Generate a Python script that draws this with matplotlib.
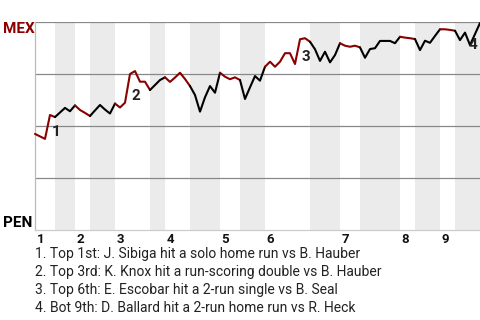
import matplotlib
matplotlib.use("Agg")
import matplotlib.pyplot as plt

plt.rcParams['font.family'] = ['Roboto', 'DejaVu Sans']

# win probability for MEX after each plate appearance (0 = PEN, 1 = MEX)
win_prob = [
    0.462, 0.450, 0.438, 0.553, 0.543, 0.565, 0.587, 0.571, 0.599, 0.577,
    0.563, 0.548, 0.575, 0.601, 0.579, 0.560, 0.608, 0.589, 0.612, 0.750,
    0.764, 0.713, 0.713, 0.673, 0.697, 0.721, 0.734, 0.712, 0.733, 0.756,
    0.726, 0.692, 0.649, 0.569, 0.638, 0.692, 0.660, 0.756, 0.737, 0.725,
    0.734, 0.721, 0.630, 0.686, 0.740, 0.718, 0.785, 0.809, 0.785, 0.809,
    0.850, 0.850, 0.798, 0.917, 0.922, 0.905, 0.869, 0.813, 0.857, 0.806,
    0.841, 0.898, 0.886, 0.881, 0.886, 0.878, 0.828, 0.870, 0.874, 0.909,
    0.909, 0.909, 0.898, 0.929, 0.925, 0.922, 0.918, 0.865, 0.910, 0.900,
    0.933, 0.965, 0.965, 0.962, 0.958, 0.913, 0.949, 0.889, 0.942, 0.995,
]
plate_app = list(range(len(win_prob)))

# plate appearance index where each half inning ends (top 1st, bot 1st, ...)
half_ends = [4, 8, 11, 16, 23, 26, 31, 37, 41, 46, 55, 61, 65, 73, 76, 81, 84, 89]
inning_labels = ['1', '2', '3', '4', '5', '6', '7', '8', '9']

# key plays
event_index = [3, 19, 53, 87]
event_text = [
    "1. Top 1st: J. Sibiga hit a solo home run vs B. Hauber",
    "2. Top 3rd: K. Knox hit a run-scoring double vs B. Hauber",
    "3. Top 6th: E. Escobar hit a 2-run single vs B. Seal",
    "4. Bot 9th: D. Ballard hit a 2-run home run vs R. Heck",
]

away_color = '#8b0000'
home_color = '#000000'

fig = plt.figure(figsize=(4.8, 3.2), dpi=100)
ax = fig.add_axes([35 / 480, 90 / 320, 445 / 480, 208 / 320])

half_starts = [0] + half_ends[:-1]
for i, (s, e) in enumerate(zip(half_starts, half_ends)):
    if i % 2 == 1:
        ax.axvspan(s, e, color='#ebebeb', lw=0, zorder=0)
    color = away_color if i % 2 == 0 else home_color
    ax.plot(plate_app[s:e + 1], win_prob[s:e + 1], color=color, lw=1.5,
            solid_joinstyle='round', solid_capstyle='round', zorder=3, clip_on=False)

for y in [0.25, 0.5, 0.75, 1.0]:
    ax.axhline(y, color='#888888', lw=0.9, zorder=1)

ax.set_xlim(0, len(win_prob) - 1)
ax.set_ylim(0, 1)
ax.set_xticks([])
ax.set_yticks([])
for side in ['top', 'right']:
    ax.spines[side].set_visible(False)
ax.spines['left'].set_color('#bbbbbb')
ax.spines['bottom'].set_color('#cccccc')
ax.spines['left'].set_linewidth(0.9)
ax.spines['bottom'].set_linewidth(0.9)

# inning numbers under the start of each top half
for k, label in enumerate(inning_labels):
    ax.annotate(label, (half_starts[2 * k], 0), xytext=(1, -2),
                textcoords='offset points', ha='left', va='top',
                fontsize=9.5, fontweight='bold', color='#111111',
                annotation_clip=False)

# numbered markers for key plays; drops for MEX sit a bit lower
for n, idx in enumerate(event_index):
    low = min(win_prob[idx - 1], win_prob[idx])
    dy = -5 if win_prob[idx] < win_prob[idx - 1] else 0
    dx = -1 if dy else 1
    ax.annotate(str(n + 1), (idx, low), xytext=(dx, dy), textcoords='offset points',
                ha='left', va='bottom', fontsize=11, fontweight='bold',
                color='#222222', zorder=4)

fig.text(3 / 480, 1 - 22 / 320, 'MEX', ha='left', va='top', fontsize=11,
         fontweight='bold', color=away_color)
fig.text(3 / 480, 90 / 320, 'PEN', ha='left', va='bottom', fontsize=11,
         fontweight='bold', color=home_color)

for n, line in enumerate(event_text):
    fig.text(35 / 480, (320 - 258 - 18 * n) / 320, line, ha='left', va='baseline',
             fontsize=10, color='#222222')

fig.savefig('out.png', dpi=100)
